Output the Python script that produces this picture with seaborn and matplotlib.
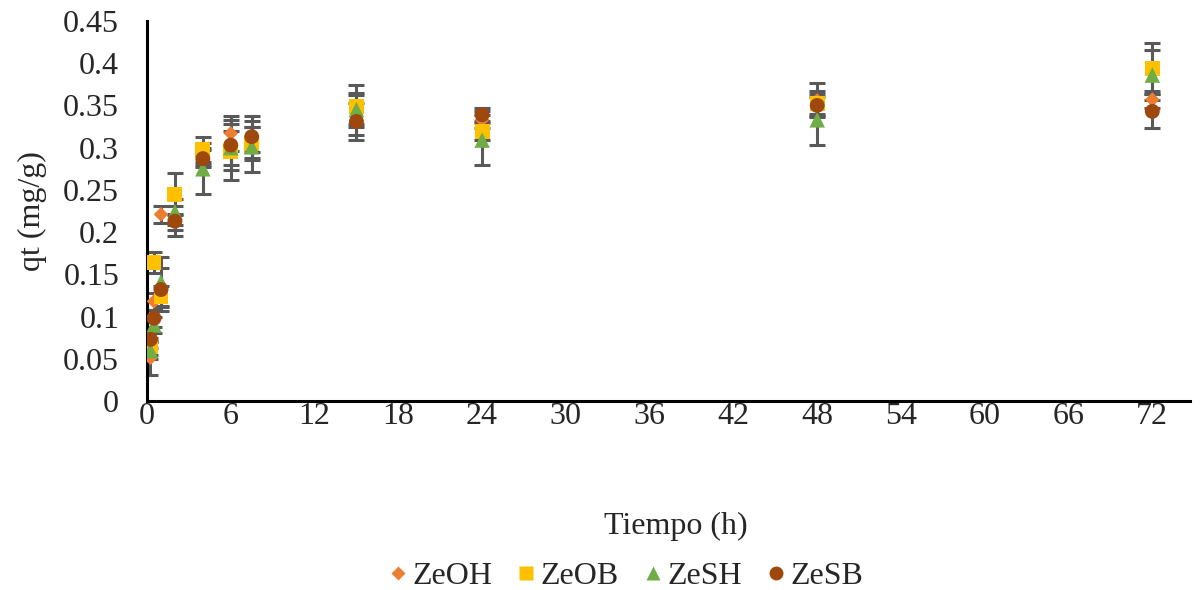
import matplotlib
matplotlib.use("Agg")
import matplotlib.pyplot as plt
import seaborn as sns
import pandas as pd
from matplotlib.lines import Line2D

# Sampling times (h)
times = [0.25, 0.5, 1, 2, 4, 6, 7.5, 15, 24, 48, 72]

# Adsorbed amount qt (mg/g) per material
ZeOH = [0.051, 0.118, 0.221, 0.212, 0.290, 0.317, 0.310, 0.340, 0.333, 0.356, 0.357]
ZeOB = [0.065, 0.164, 0.124, 0.245, 0.298, 0.295, 0.305, 0.349, 0.319, 0.352, 0.394]
ZeSH = [0.060, 0.090, 0.141, 0.224, 0.275, 0.300, 0.301, 0.345, 0.309, 0.333, 0.386]
ZeSB = [0.073, 0.098, 0.132, 0.213, 0.287, 0.303, 0.313, 0.331, 0.339, 0.350, 0.343]

# Standard deviations
ZeOH_err = [0.020, 0.010, 0.010, 0.010, 0.010, 0.021, 0.015, 0.025, 0.010, 0.020, 0.010]
ZeOB_err = [0.010, 0.013, 0.012, 0.025, 0.015, 0.033, 0.020, 0.025, 0.010, 0.015, 0.030]
ZeSH_err = [0.010, 0.010, 0.030, 0.015, 0.030, 0.020, 0.030, 0.017, 0.030, 0.030, 0.030]
ZeSB_err = [0.010, 0.010, 0.025, 0.018, 0.010, 0.030, 0.025, 0.022, 0.008, 0.010, 0.020]

series = ["ZeOH", "ZeOB", "ZeSH", "ZeSB"]
values = [ZeOH, ZeOB, ZeSH, ZeSB]
errors = [ZeOH_err, ZeOB_err, ZeSH_err, ZeSB_err]
colors = ["#ED7D31", "#FFC000", "#70AD47", "#9E480E"]
markers = ["D", "s", "^", "o"]
sizes = [55, 115, 125, 115]

x_ticks = [0, 6, 12, 18, 24, 30, 36, 42, 48, 54, 60, 66, 72]
y_ticks = [0, 0.05, 0.1, 0.15, 0.2, 0.25, 0.3, 0.35, 0.4, 0.45]
y_tick_labels = ["0", "0.05", "0.1", "0.15", "0.2", "0.25", "0.3", "0.35", "0.4", "0.45"]

rows = []
for name, vals, errs in zip(series, values, errors):
    for t, v, e in zip(times, vals, errs):
        rows.append({"Tiempo": t, "qt": v, "err": e, "Muestra": name})
df = pd.DataFrame(rows)

sns.set_style("white")
plt.rcParams["font.family"] = ["Liberation Serif", "DejaVu Serif"]

fig = plt.figure(figsize=(12.04, 5.90), dpi=100)
ax = fig.add_axes([147 / 1204, 1 - 401 / 590, 1043 / 1204, 380 / 590])

# error bars under the markers
for name in series:
    sub = df[df["Muestra"] == name]
    ax.errorbar(sub["Tiempo"], sub["qt"], yerr=sub["err"], fmt="none",
                ecolor="#595959", elinewidth=2.2, capsize=6, capthick=2.2, zorder=1)

for name, col, mk, sz in zip(series, colors, markers, sizes):
    sub = df[df["Muestra"] == name]
    sns.scatterplot(data=sub, x="Tiempo", y="qt", color=col, marker=mk, s=sz,
                    edgecolor="none", linewidth=0, ax=ax, zorder=3, legend=False)

ax.set_xlim(0, 74.7)
ax.set_ylim(0, 0.45)
ax.set_xticks(x_ticks)
ax.set_xticklabels([str(v) for v in x_ticks])
ax.set_yticks(y_ticks)
ax.set_yticklabels(y_tick_labels)
ax.tick_params(axis="both", length=0, labelsize=23)
ax.tick_params(axis="x", pad=1)
ax.tick_params(axis="y", pad=20)
ax.set_xlabel("")
ax.set_ylabel("qt (mg/g)", fontsize=23, labelpad=12)

for side in ["top", "right"]:
    ax.spines[side].set_visible(False)
for side in ["left", "bottom"]:
    ax.spines[side].set_color("black")
    ax.spines[side].set_linewidth(2.2)

fig.text(676 / 1204, 1 - 526 / 590, "Tiempo (h)", fontsize=23,
         ha="center", va="center")

handles = [Line2D([0], [0], marker=mk, color="none", markerfacecolor=col,
                  markeredgecolor="none", markersize=ms, label=name)
           for name, col, mk, ms in zip(series, colors, markers, [7, 10, 10, 10])]
fig.legend(handles=handles, loc="center", bbox_to_anchor=(626 / 1204, 1 - 576 / 590),
           ncol=4, frameon=False, fontsize=23, handletextpad=0.15,
           columnspacing=0.77, handlelength=0.6, borderpad=0.1)

fig.savefig("out.png", dpi=100)
